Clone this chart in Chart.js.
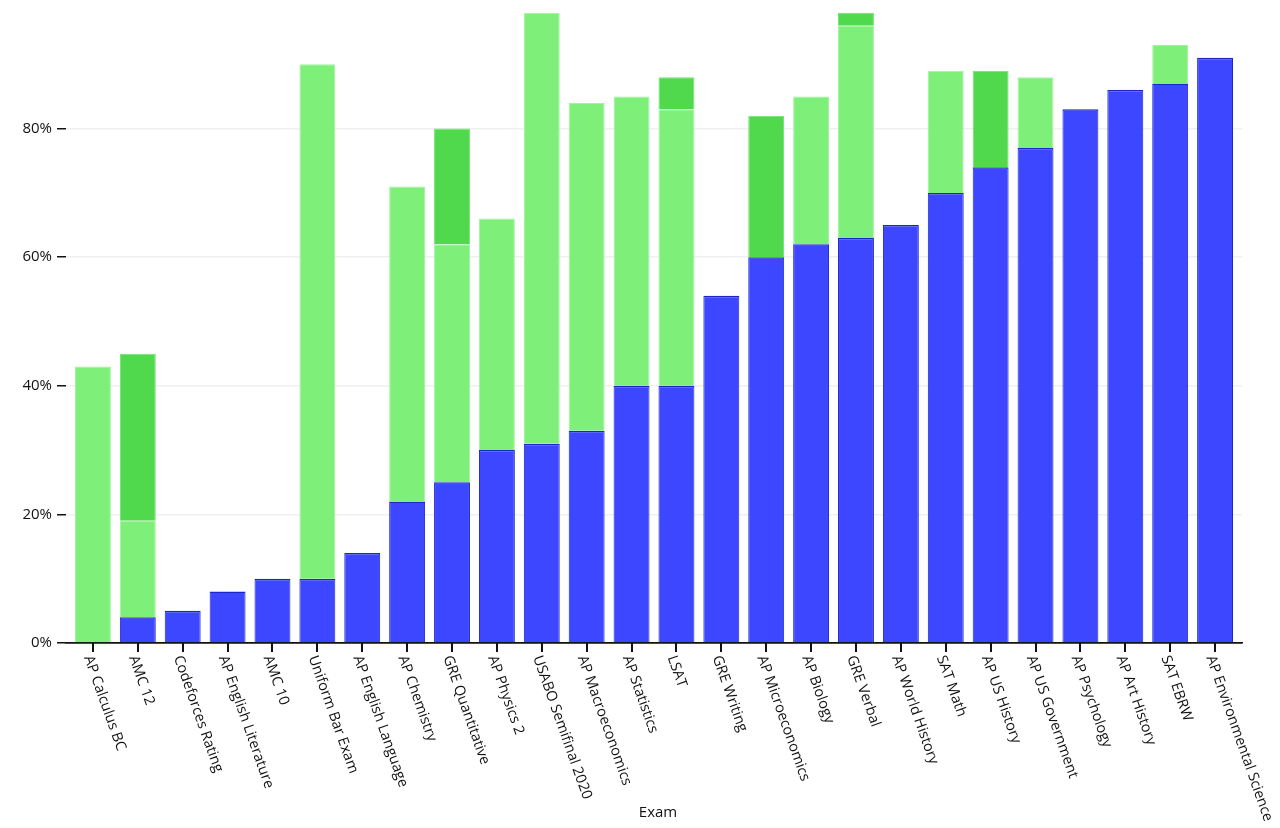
<!DOCTYPE html>
<html>
<head>
<meta charset="utf-8">
<script src="https://cdn.jsdelivr.net/npm/chart.js@4.4.1/dist/chart.umd.min.js"></script>
<style>
  html, body { margin: 0; padding: 0; background: #fff; }
  #wrap { width: 1280px; height: 828px; }
</style>
</head>
<body>
<div id="wrap"><canvas id="myChart" width="1280" height="828"></canvas></div>
<script>
// exams, sorted by GPT-3.5 score
const exams = [
  "AP Calculus BC", "AMC 12", "Codeforces Rating", "AP English Literature", "AMC 10",
  "Uniform Bar Exam", "AP English Language", "AP Chemistry", "GRE Quantitative", "AP Physics 2",
  "USABO Semifinal 2020", "AP Macroeconomics", "AP Statistics", "LSAT", "GRE Writing",
  "AP Microeconomics", "AP Biology", "GRE Verbal", "AP World History", "SAT Math",
  "AP US History", "AP US Government", "AP Psychology", "AP Art History", "SAT EBRW",
  "AP Environmental Science"
]
// percentile scores (top of each coloured segment)
const gpt35 = [0, 4, 5, 8, 10, 10, 14, 22, 25, 30, 31, 33, 40, 40, 54, 60, 62, 63, 65, 70, 74, 77, 83, 86, 87, 91]
const gpt4NoVision = [43, 19, 5, 8, 10, 90, 14, 71, 62, 66, 98, 84, 85, 83, 54, 60, 85, 96, 65, 89, 74, 88, 83, 86, 93, 91]
const gpt4 = [43, 45, 5, 8, 10, 90, 14, 71, 80, 66, 98, 84, 85, 88, 54, 82, 85, 98, 65, 89, 89, 88, 83, 86, 93, 91]
const yTicks = [0, 20, 40, 60, 80]

const FONT = "'Open Sans', 'Noto Sans', sans-serif"
const labelAngle = 70.5 * Math.PI / 180

// stacked segments: difference between consecutive tops, null if empty
function segment(top, base) {
  return top.map((v, i) => {
    let d = v - (base ? base[i] : 0)
    return d > 0 ? { x: i, y: d } : { x: i, y: null }
  })
}

// x tick marks + rotated labels (text runs down to the right)
const rotatedLabels = {
  id: 'rotatedLabels',
  afterDraw(chart) {
    const ctx = chart.ctx
    const xs = chart.scales.x
    const bottom = chart.chartArea.bottom
    ctx.save()
    ctx.fillStyle = '#111'
    for (let i = 0; i < exams.length; i++) {
      let px = xs.getPixelForValue(i)
      ctx.fillRect(Math.round(px) - 1, bottom, 2, 9)
    }
    ctx.font = '14.5px ' + FONT
    ctx.textAlign = 'left'
    ctx.textBaseline = 'middle'
    for (let i = 0; i < exams.length; i++) {
      let px = xs.getPixelForValue(i)
      ctx.save()
      ctx.translate(px - 5, bottom + 13)
      ctx.rotate(labelAngle)
      ctx.fillText(exams[i], 0, 0)
      ctx.restore()
    }
    ctx.font = '15px ' + FONT
    ctx.textAlign = 'center'
    ctx.fillText('Exam', 658, 813)
    ctx.restore()
  }
}

const ctx = document.getElementById('myChart')
const myChart = new Chart(ctx, {
  type: 'bar',
  data: {
    datasets: [{
      label: 'GPT-3.5',
      data: segment(gpt35),
      backgroundColor: '#3d47ff',
      borderColor: '#1b27c9',
      borderWidth: { top: 1.5, left: 1, right: 1, bottom: 0 },
      stack: 'exam'
    }, {
      label: 'GPT-4 (no vision)',
      data: segment(gpt4NoVision, gpt35),
      backgroundColor: '#7ef07a',
      borderColor: '#9ef59b',
      borderWidth: 1,
      stack: 'exam'
    }, {
      label: 'GPT-4',
      data: segment(gpt4, gpt4NoVision),
      backgroundColor: '#50d94c',
      borderColor: '#6ee46a',
      borderWidth: 1,
      stack: 'exam'
    }]
  },
  options: {
    responsive: false,
    animation: false,
    barPercentage: 0.8,
    categoryPercentage: 1.0,
    layout: { padding: { left: 0, right: 38, top: 0, bottom: 0 } },
    plugins: {
      legend: { display: false },
      tooltip: { enabled: false }
    },
    scales: {
      x: {
        type: 'linear',
        min: -0.6,
        max: 25.6,
        offset: false,
        afterBuildTicks: s => { s.ticks = exams.map((e, i) => ({ value: i })) },
        afterFit: s => { s.height = 185; s.paddingLeft = 0; s.paddingRight = 0 },
        ticks: { display: false },
        grid: { display: false },
        border: { display: true, color: '#111', width: 1.5 }
      },
      y: {
        stacked: true,
        min: 0,
        max: 100,
        afterBuildTicks: s => { s.ticks = yTicks.map(v => ({ value: v })) },
        afterFit: s => { s.width = 66; s.paddingTop = 0; s.paddingBottom = 0 },
        ticks: {
          color: '#111',
          padding: 5,
          font: { family: FONT, size: 15 },
          callback: v => v + '%'
        },
        grid: {
          color: ctx => ctx.tick && ctx.tick.value === 0 ? '#111' : '#f0f0f0',
          tickColor: '#111',
          tickLength: 9,
          lineWidth: 1.5
        },
        border: { display: false }
      }
    }
  },
  plugins: [rotatedLabels]
})
</script>
</body>
</html>
